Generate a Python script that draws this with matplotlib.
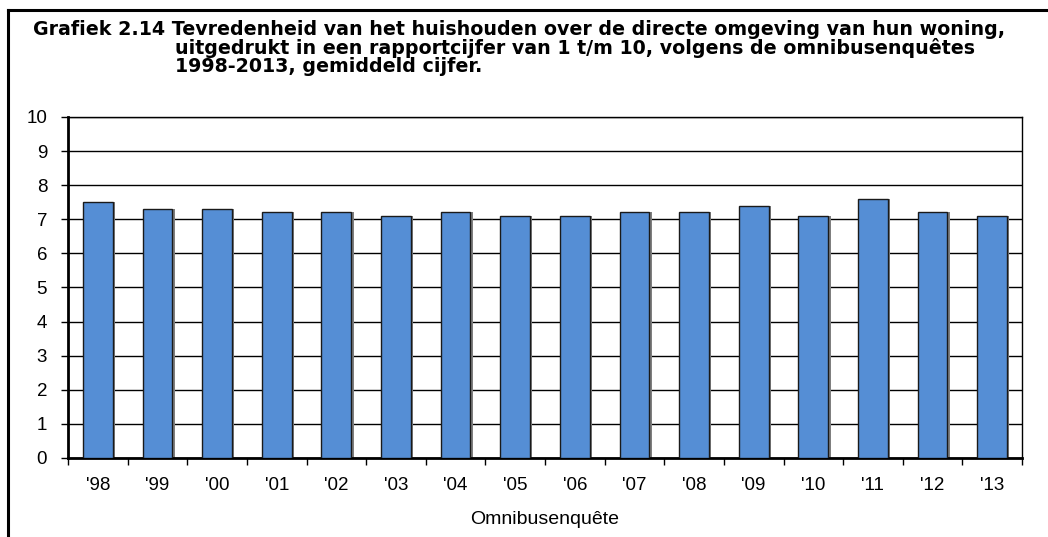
import matplotlib
matplotlib.use("Agg")
import matplotlib.pyplot as plt
from matplotlib.lines import Line2D

categories = ["'98", "'99", "'00", "'01", "'02", "'03", "'04", "'05",
              "'06", "'07", "'08", "'09", "'10", "'11", "'12", "'13"]
values = [7.5, 7.3, 7.3, 7.2, 7.2, 7.1, 7.2, 7.1, 7.1, 7.2, 7.2, 7.4, 7.1, 7.6, 7.2, 7.1]
yticks = list(range(0, 11))

title_lines = [
    "Grafiek 2.14 Tevredenheid van het huishouden over de directe omgeving van hun woning,",
    "uitgedrukt in een rapportcijfer van 1 t/m 10, volgens de omnibusenquêtes",
    "1998-2013, gemiddeld cijfer.",
]

plt.rcParams['font.family'] = ['Liberation Sans', 'DejaVu Sans']

W, H = 1048, 537
fig = plt.figure(figsize=(W / 100, H / 100), dpi=100)
ax = fig.add_axes([68 / W, 1 - 458 / H, (1022 - 68) / W, (458 - 117) / H])

x = list(range(len(categories)))
# shadow
ax.bar([i + 0.04 for i in x], values, width=0.5, color='#7f7f7f', zorder=2)
ax.bar(x, values, width=0.5, color='#558ED5', edgecolor='#1a1a1a', linewidth=1.0, zorder=3)

ax.set_xlim(-0.5, len(categories) - 0.5)
ax.set_ylim(0, 10)
ax.set_yticks(yticks)
ax.set_yticklabels([str(t) for t in yticks], fontsize=13.5)
ax.yaxis.grid(True, color='black', linewidth=1.0, zorder=1)
ax.set_axisbelow(True)
ax.tick_params(axis='y', length=5, width=1, direction='out', pad=10)

ax.set_xticks(x)
ax.set_xticklabels(categories, fontsize=13.5)
ax.tick_params(axis='x', length=0, pad=14)
ax.set_xticks([i + 0.5 for i in range(-1, len(categories))], minor=True)
ax.tick_params(axis='x', which='minor', length=5, direction='out', width=1)
ax.set_xlabel('Omnibusenquête', fontsize=14, labelpad=12)

for s in ['left', 'bottom']:
    ax.spines[s].set_linewidth(2.0)
for s in ['right', 'top']:
    ax.spines[s].set_linewidth(1.0)

# title lines, fitted to the reference width
title_fs = 14.0
t1 = fig.text(33 / W, 1 - 35 / H, title_lines[0], fontsize=title_fs, fontweight='bold',
              family=['DejaVu Sans'], ha='left', va='baseline')
fig.canvas.draw()
r = fig.canvas.get_renderer()
w = t1.get_window_extent(r).width
title_fs = title_fs * (1005 - 33) / w
t1.set_fontsize(title_fs)
fig.text(175 / W, 1 - 54 / H, title_lines[1], fontsize=title_fs, fontweight='bold',
         family=['DejaVu Sans'], ha='left', va='baseline')
fig.text(175 / W, 1 - 72.5 / H, title_lines[2], fontsize=title_fs, fontweight='bold',
         family=['DejaVu Sans'], ha='left', va='baseline')

# outer frame (left and top)
fig.add_artist(Line2D([7.5 / W, 7.5 / W], [0, 1 - 10 / H], transform=fig.transFigure,
                      color='black', linewidth=2.2, solid_capstyle='projecting'))
fig.add_artist(Line2D([7.5 / W, 1], [1 - 10 / H, 1 - 10 / H], transform=fig.transFigure,
                      color='black', linewidth=2.2, solid_capstyle='projecting'))

fig.savefig('out.png', dpi=100)
